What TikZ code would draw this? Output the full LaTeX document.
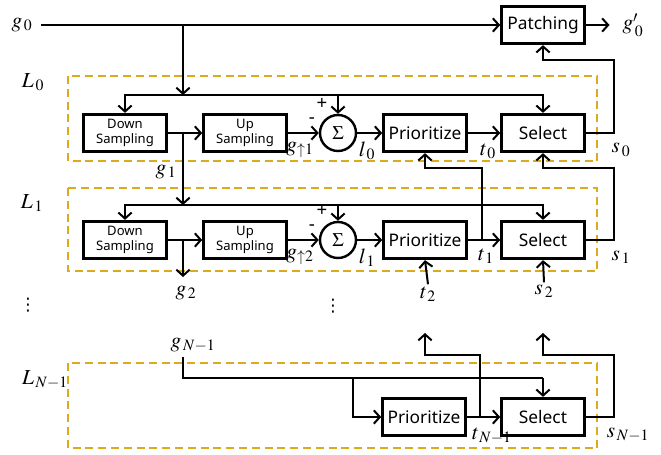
\documentclass[tikz,border=0pt]{standalone}
\usepackage{mathptmx}
\usepackage{fontspec}
\newfontfamily\boxfont{Noto Sans}
\newfontfamily\symfont{DejaVu Sans}
\usepackage{xcolor}
\usetikzlibrary{arrows.meta,positioning,calc}
\definecolor{lvlGold}{HTML}{DCAA1E}

\begin{document}
\begin{tikzpicture}[x=0.75pt,y=-0.75pt,line width=1.5pt,
  >={Straight Barb[length=4.5pt,width=10pt]},
  blk/.style={draw,line width=2.2pt,minimum width=62pt,minimum height=28pt,inner sep=1pt,
    font=\boxfont\fontsize{13}{15}\selectfont},
  sblk/.style={blk,align=center,font=\boxfont\fontsize{9.8}{11.5}\selectfont},
  sumnode/.style={draw,circle,line width=1.8pt,minimum size=27pt,inner sep=0pt,font=\Large},
  lvl/.style={draw=lvlGold,line width=2.2pt,dash pattern=on 6pt off 3.6pt},
  lbl/.style={font=\fontsize{16}{18}\selectfont,inner sep=1pt},
  sgn/.style={font=\boxfont\bfseries\fontsize{14}{14}\selectfont,inner sep=0pt}]
\useasboundingbox (0,0) rectangle (661,454);
% level frames
\draw[lvl] (68,76) rectangle (597,161);
\draw[lvl] (68,188) rectangle (597,271);
\draw[lvl] (68,363) rectangle (597,448);
\node[lbl] (L0) at (33,82) {$L_{\,0}$};
\node[lbl] (L1) at (32,203) {$L_{\,1}$};
\node[lbl] (LN) at (45,380) {$L_{\,N-1}$};
% input and patching
\node[lbl] (g0) at (22,25) {$g_{\,0}$};
\node[blk] (patch) at (543,25) {Patching};
\node[lbl] (gp0) at (633,25) {$g'_{\,0}$};
\draw[->,shorten <=5pt] (g0.east) -- (patch.west);
\draw[->,shorten >=8pt] (patch.east) -- (gp0.west);
% level 0
\node[sblk] (ds0) at (125,133) {Down\\Sampling};
\node[sblk] (us0) at (245,133) {Up\\Sampling};
\node[sumnode] (sum0) at (338,133) {$\Sigma$};
\node[blk] (pr0) at (425,133) {Prioritize};
\node[blk] (sel0) at (543,133) {Select};
\coordinate (b0) at (183,25);
\coordinate (f0) at (183,95);
\draw[->] (b0) -- (f0);
\draw[->] (f0) -| (ds0.north);
\draw[->] (f0) -| (sel0.north);
\draw[->] (sum0 |- f0) -- (sum0.north);
\draw[->] (ds0) -- (us0);
\draw[->] (us0) -- (sum0);
\draw[->] (sum0) -- (pr0);
\draw[->] (pr0) -- (sel0);
\draw[->] (sel0.east) -| ++(28,-73) -| (patch.south);
\node[sgn] (p0) at (322,104) {+};
\node[sgn] (m0) at (312,121) {-};
\node[lbl] (gu1) at (300,150) {$g_{\uparrow 1}$};
\node[lbl] (l0) at (367,151) {$l_{\,0}$};
\node[lbl] (t0) at (488,151) {$t_{\,0}$};
\node[lbl] (s0) at (621,150) {$s_{\,0}$};
% level 1
\node[sblk] (ds1) at (125,240) {Down\\Sampling};
\node[sblk] (us1) at (245,240) {Up\\Sampling};
\node[sumnode] (sum1) at (338,240) {$\Sigma$};
\node[blk] (pr1) at (425,240) {Prioritize};
\node[blk] (sel1) at (543,240) {Select};
\coordinate (d0) at (183,133);
\coordinate (f1) at (183,205);
\draw[->] (d0) -- (f1);
\node[lbl] (g1) at (166,172) {$g_{\,1}$};
\draw[->] (f1) -| (ds1.north);
\draw[->] (f1) -| (sel1.north);
\draw[->] (sum1 |- f1) -- (sum1.north);
\draw[->] (ds1) -- (us1);
\draw[->] (us1) -- (sum1);
\draw[->] (sum1) -- (pr1);
\draw[->] (pr1) -- (sel1);
\coordinate (t1m) at (482,240);
\draw[->] (t1m) -- ++(0,-72) -| (pr0.south);
\draw[->] (sel1.east) -| ++(28,-72) -| (sel0.south);
\node[sgn] (p1) at (322,211) {+};
\node[sgn] (m1) at (312,228) {-};
\node[lbl] (gu2) at (300,257) {$g_{\uparrow 2}$};
\node[lbl] (l1) at (367,258) {$l_{\,1}$};
\node[lbl] (t1) at (486,256) {$t_{\,1}$};
\node[lbl] (s1) at (621,257) {$s_{\,1}$};
\coordinate (d1) at (183,240);
\coordinate (g2e) at (183,277);
\draw[->] (d1) -- (g2e);
\node[lbl] (g2) at (186,293) {$g_{\,2}$};
\node[lbl] (t2) at (428,294) {$t_{\,2}$};
\node[lbl] (s2) at (544,291) {$s_{\,2}$};
\draw[->] (t2.north) -- (pr1.south);
\draw[->] (s2.north) -- (sel1.south);
% gap
\node[font=\symfont\fontsize{13}{13}\selectfont,inner sep=0pt] (dotsL) at (28,305) {⋮};
\node[font=\symfont\fontsize{13}{13}\selectfont,inner sep=0pt] (dotsM) at (333,306) {⋮};
% level N-1
\node[lbl] (gN) at (193,345) {$g_{\,N-1}$};
\node[blk] (prN) at (424,417) {Prioritize};
\node[blk] (selN) at (543,417) {Select};
\coordinate (gNs) at (183,357);
\coordinate (fN) at (183,378);
\coordinate (bN) at (353,378);
\draw (gNs) -- (fN) -- (selN.north |- fN);
\draw[->] (selN.north |- fN) -- (selN.north);
\draw[->] (bN) |- (prN.west);
\draw[->] (prN) -- (selN);
\coordinate (tNm) at (480,417);
\coordinate (tNe) at (425,333);
\coordinate (sNe) at (543,333);
\draw[->] (tNm) -- ++(0,-62) -| (tNe);
\draw[->] (selN.east) -| ++(28,-62) -| (sNe);
\node[lbl] (tN) at (492,436) {$t_{\,N-1}$};
\node[lbl] (sN) at (628,435) {$s_{\,N-1}$};
\end{tikzpicture}
\end{document}
